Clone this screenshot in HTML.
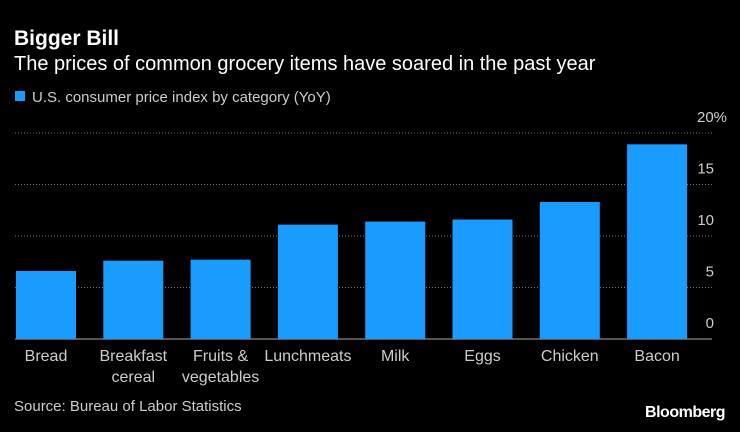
<!DOCTYPE html>
<html><head><meta charset="utf-8"><style>
body{margin:0;background:#000;width:740px;height:427px;overflow:hidden;font-family:"Liberation Sans",sans-serif;}
</style></head><body>
<svg width="740" height="427" xmlns="http://www.w3.org/2000/svg">
<text x="14" y="45" fill="#fff" font-size="21" font-weight="bold">Bigger Bill</text>
<text x="14" y="70" fill="#fff" font-size="20">The prices of common grocery items have soared in the past year</text>
<rect x="15" y="91" width="10" height="10" fill="#1a9cff"/>
<text x="32" y="102" fill="#ccc" font-size="15">U.S. consumer price index by category (YoY)</text>
<g id="grid"></g><g id="bars"></g><g id="labels"></g>
<text x="14" y="411" fill="#ccc" font-size="15">Source: Bureau of Labor Statistics</text>
<text x="725" y="417" fill="#fff" font-size="16" font-weight="bold" text-anchor="end" letter-spacing="-0.5">Bloomberg</text>
</svg>
<script>
const categories=[["Bread"],["Breakfast","cereal"],["Fruits &","vegetables"],["Lunchmeats"],["Milk"],["Eggs"],["Chicken"],["Bacon"]];
const values=[6.6,7.6,7.7,11.1,11.4,11.6,13.3,18.9];
const ticks=[0,5,10,15,20];
const tickLabels=["0","5","10","15","20%"];
const NS="http://www.w3.org/2000/svg";
const y=v=>339-v*10.3;
const x=i=>16+i*87.3;
const bw=60;
function mk(t,a,p){const e=document.createElementNS(NS,t);for(const k in a)e.setAttribute(k,a[k]);p.appendChild(e);return e;}
const g=document.getElementById('grid'),b=document.getElementById('bars'),l=document.getElementById('labels');
ticks.forEach((t,i)=>{
 const ln=mk('line',{x1:15,x2:712,y1:y(t),y2:y(t),stroke:t===0?'#aaa':'#777','stroke-width':1,'stroke-dasharray':t===0?'':'1,2'},g);
 
 
 const tx=mk('text',{x:i===4?697:714,y:y(t)-11,fill:'#ccc','font-size':15,'text-anchor':i===4?'start':'end'},g);
 tx.textContent=tickLabels[i];
 
 
});
values.forEach((v,i)=>{
 const r=mk('rect',{x:x(i),y:y(v),width:bw,height:y(0)-y(v),fill:'#1a9cff'},b);
 
 
 categories[i].forEach((s,j)=>{
  const t=mk('text',{x:x(i)+bw/2,y:361+j*21,fill:'#ccc','font-size':16,'text-anchor':'middle'},l);
  t.textContent=s;
  
  
 });
});
</script>
</body></html>
